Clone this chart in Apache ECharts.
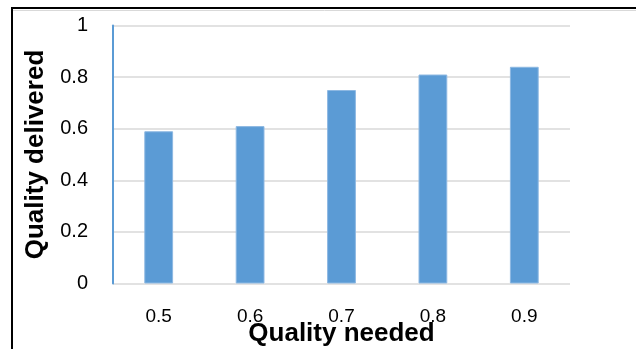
<!DOCTYPE html>
<html>
<head>
<meta charset="utf-8">
<script src="https://cdn.jsdelivr.net/npm/echarts@6/dist/echarts.min.js"></script>
<style>
  html, body { margin: 0; padding: 0; background: #fff; }
  #chart { width: 636px; height: 349px; }
</style>
</head>
<body>
<div id="chart"></div>
<script>
// Quality needed (categories) vs. quality delivered (bar heights)
const categories = ['0.5', '0.6', '0.7', '0.8', '0.9'];
const delivered = [0.59, 0.61, 0.75, 0.81, 0.84];
const yTicks = { min: 0, max: 1, interval: 0.2 };

const labelFont = 'Liberation Sans, Arial, sans-serif';

const chart = echarts.init(document.getElementById('chart'), null, { renderer: 'canvas' });

chart.setOption({
  animation: false,
  backgroundColor: '#ffffff',
  graphic: [
    {
      // frame around the chart area (continues past the right and bottom edges)
      type: 'rect',
      shape: { x: 12, y: 8, width: 700, height: 400 },
      style: { fill: 'none', stroke: '#000', lineWidth: 2 },
      silent: true
    },
    {
      type: 'line',
      shape: { x1: 13, y1: 10.5, x2: 636, y2: 10.5 },
      style: { stroke: '#d9d9d9', lineWidth: 1 },
      silent: true
    }
  ],
  grid: { left: 113, right: 66, top: 25.5, bottom: 65.5, containLabel: false, outerBoundsMode: 'none' },
  xAxis: {
    type: 'category',
    data: categories,
    name: 'Quality needed',
    nameLocation: 'middle',
    nameGap: 37,
    nameMoveOverlap: false,
    nameTextStyle: { fontFamily: labelFont, fontWeight: 'bold', fontSize: 26, color: '#000' },
    axisLine: { show: false },
    axisTick: { show: false },
    axisLabel: { fontFamily: labelFont, fontSize: 19, color: '#000', margin: 24 }
  },
  yAxis: {
    type: 'value',
    min: yTicks.min,
    max: yTicks.max,
    interval: yTicks.interval,
    name: 'Quality delivered',
    nameLocation: 'middle',
    nameRotate: 90,
    nameGap: 64,
    nameTextStyle: { fontFamily: labelFont, fontWeight: 'bold', fontSize: 26, color: '#000' },
    axisLine: { show: true, lineStyle: { color: '#5B9BD5', width: 2 } },
    axisTick: { show: false },
    axisLabel: { fontFamily: labelFont, fontSize: 20, color: '#000', margin: 25 },
    splitLine: { lineStyle: { color: '#D9D9D9', width: 1.5 } }
  },
  series: [
    {
      type: 'bar',
      data: delivered,
      barWidth: '31.5%',
      itemStyle: { color: '#5B9BD5', borderColor: '#8DB8E2', borderWidth: 1 }
    }
  ]
});
</script>
</body>
</html>
